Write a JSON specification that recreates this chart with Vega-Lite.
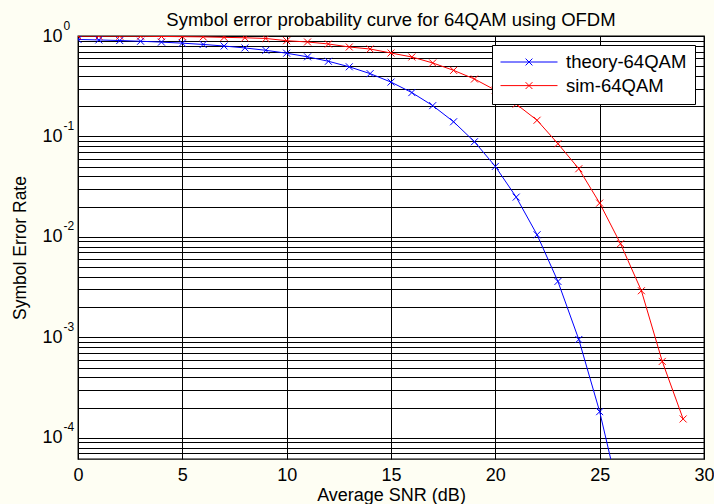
{
  "$schema": "https://vega.github.io/schema/vega-lite/v6.json",
  "width": 626,
  "height": 423,
  "autosize": {"type": "none"},
  "padding": {"left": 78, "top": 36, "right": 10, "bottom": 45},
  "background": "#fefef3",
  "title": {
    "text": "Symbol error probability curve for 64QAM using OFDM",
    "fontSize": 18.5,
    "font": "Liberation Sans",
    "fontWeight": "normal",
    "color": "black",
    "frame": "group",
    "anchor": "middle",
    "baseline": "alphabetic",
    "offset": -15,
    "dy": 10
  },
  "config": {
    "view": {"stroke": "black", "strokeWidth": 1.3, "fill": "white"},
    "font": "Liberation Sans"
  },
  "data": {
    "values": [
      {"snr": 0, "ser": 0.9237, "series": "theory-64QAM"},
      {"snr": 1, "ser": 0.9135, "series": "theory-64QAM"},
      {"snr": 2, "ser": 0.9012, "series": "theory-64QAM"},
      {"snr": 3, "ser": 0.8866, "series": "theory-64QAM"},
      {"snr": 4, "ser": 0.8692, "series": "theory-64QAM"},
      {"snr": 5, "ser": 0.8485, "series": "theory-64QAM"},
      {"snr": 6, "ser": 0.8239, "series": "theory-64QAM"},
      {"snr": 7, "ser": 0.7948, "series": "theory-64QAM"},
      {"snr": 8, "ser": 0.7605, "series": "theory-64QAM"},
      {"snr": 9, "ser": 0.7205, "series": "theory-64QAM"},
      {"snr": 10, "ser": 0.6739, "series": "theory-64QAM"},
      {"snr": 11, "ser": 0.6205, "series": "theory-64QAM"},
      {"snr": 12, "ser": 0.5603, "series": "theory-64QAM"},
      {"snr": 13, "ser": 0.4936, "series": "theory-64QAM"},
      {"snr": 14, "ser": 0.4220, "series": "theory-64QAM"},
      {"snr": 15, "ser": 0.3477, "series": "theory-64QAM"},
      {"snr": 16, "ser": 0.2733, "series": "theory-64QAM"},
      {"snr": 17, "ser": 0.2027, "series": "theory-64QAM"},
      {"snr": 18, "ser": 0.1400, "series": "theory-64QAM"},
      {"snr": 19, "ser": 0.0886, "series": "theory-64QAM"},
      {"snr": 20, "ser": 0.0503, "series": "theory-64QAM"},
      {"snr": 21, "ser": 0.0249, "series": "theory-64QAM"},
      {"snr": 22, "ser": 0.0105, "series": "theory-64QAM"},
      {"snr": 23, "ser": 0.0036, "series": "theory-64QAM"},
      {"snr": 24, "ser": 0.000952, "series": "theory-64QAM"},
      {"snr": 25, "ser": 0.000182, "series": "theory-64QAM"},
      {"snr": 26, "ser": 0.0000235, "series": "theory-64QAM"},
      {"snr": 0, "ser": 0.997, "series": "sim-64QAM"},
      {"snr": 1, "ser": 0.997, "series": "sim-64QAM"},
      {"snr": 2, "ser": 0.997, "series": "sim-64QAM"},
      {"snr": 3, "ser": 0.996, "series": "sim-64QAM"},
      {"snr": 4, "ser": 0.99, "series": "sim-64QAM"},
      {"snr": 5, "ser": 0.985, "series": "sim-64QAM"},
      {"snr": 6, "ser": 0.98, "series": "sim-64QAM"},
      {"snr": 7, "ser": 0.97, "series": "sim-64QAM"},
      {"snr": 8, "ser": 0.96, "series": "sim-64QAM"},
      {"snr": 9, "ser": 0.945, "series": "sim-64QAM"},
      {"snr": 10, "ser": 0.898, "series": "sim-64QAM"},
      {"snr": 11, "ser": 0.872, "series": "sim-64QAM"},
      {"snr": 12, "ser": 0.833, "series": "sim-64QAM"},
      {"snr": 13, "ser": 0.777, "series": "sim-64QAM"},
      {"snr": 14, "ser": 0.742, "series": "sim-64QAM"},
      {"snr": 15, "ser": 0.677, "series": "sim-64QAM"},
      {"snr": 16, "ser": 0.618, "series": "sim-64QAM"},
      {"snr": 17, "ser": 0.539, "series": "sim-64QAM"},
      {"snr": 18, "ser": 0.455, "series": "sim-64QAM"},
      {"snr": 19, "ser": 0.373, "series": "sim-64QAM"},
      {"snr": 20, "ser": 0.289, "series": "sim-64QAM"},
      {"snr": 21, "ser": 0.210, "series": "sim-64QAM"},
      {"snr": 22, "ser": 0.145, "series": "sim-64QAM"},
      {"snr": 23, "ser": 0.0847, "series": "sim-64QAM"},
      {"snr": 24, "ser": 0.0477, "series": "sim-64QAM"},
      {"snr": 25, "ser": 0.0217, "series": "sim-64QAM"},
      {"snr": 26, "ser": 0.00855, "series": "sim-64QAM"},
      {"snr": 27, "ser": 0.00291, "series": "sim-64QAM"},
      {"snr": 28, "ser": 0.000576, "series": "sim-64QAM"},
      {"snr": 29, "ser": 0.000154, "series": "sim-64QAM"}
    ]
  },
  "resolve": {"scale": {"y": "independent"}, "axis": {"y": "independent"}},
  "layer": [
    {
      "mark": {"type": "line", "strokeWidth": 1, "clip": true},
      "encoding": {
        "x": {
          "field": "snr", "type": "quantitative",
          "scale": {"domain": [0, 30], "nice": false, "zero": false},
          "axis": {
            "values": [0, 5, 10, 15, 20, 25, 30],
            "grid": true, "gridColor": "black", "gridOpacity": 1, "gridWidth": 1,
            "labelFontSize": 18, "labelColor": "black", "labelPadding": 7, "labelFlush": false,
            "ticks": false, "tickSize": 0, "domain": false,
            "title": "Average SNR (dB)", "titleFontSize": 18, "titleFontWeight": "normal",
            "titleColor": "black", "titlePadding": 2
          }
        },
        "y": {
          "field": "ser", "type": "quantitative",
          "scale": {"type": "log", "domain": [0.0000615, 1], "nice": false},
          "axis": {
            "orient": "left",
            "values": [0.00007, 0.00008, 0.00009, 0.0001, 0.0002, 0.0003, 0.0004, 0.0005, 0.0006, 0.0007, 0.0008, 0.0009, 0.001, 0.002, 0.003, 0.004, 0.005, 0.006, 0.007, 0.008, 0.009, 0.01, 0.02, 0.03, 0.04, 0.05, 0.06, 0.07, 0.08, 0.09, 0.1, 0.2, 0.3, 0.4, 0.5, 0.6, 0.7, 0.8, 0.9, 1],
            "labelExpr": "abs(log(datum.value)/LN10 - round(log(datum.value)/LN10)) < 0.001 ? '10' : ''",
            "labelOverlap": false,
            "grid": true, "gridColor": "black", "gridOpacity": 1, "gridWidth": 1,
            "labelFontSize": 18, "labelColor": "black", "labelPadding": 16, "labelAlign": "right", "labelBaseline": "middle",
            "ticks": false, "tickSize": 0, "domain": false,
            "title": "Symbol Error Rate", "titleFontSize": 17.5, "titleFontWeight": "normal",
            "titleColor": "black", "titlePadding": 12
          }
        },
        "color": {
          "field": "series", "type": "nominal",
          "scale": {"domain": ["theory-64QAM", "sim-64QAM"], "range": ["#0000ff", "#ff0000"]},
          "legend": {
            "title": null, "orient": "none", "legendX": 414, "legendY": 9, "direction": "vertical",
            "fillColor": "white", "strokeColor": "black", "padding": 8,
            "symbolType": "M-1,0L1,0M-0.12,-0.12L0.12,0.12M-0.12,0.12L0.12,-0.12",
            "symbolSize": 3249, "symbolStrokeWidth": 1, "symbolOpacity": 1,
            "clipHeight": 18,
            "labelFontSize": 18.5, "labelColor": "black", "labelOffset": 8, "rowPadding": 4.6, "labelLimit": 300
          }
        }
      }
    },
    {
      "mark": {"type": "point", "shape": "M-1,-1L1,1M-1,1L1,-1", "filled": false, "size": 49, "strokeWidth": 1, "clip": true, "opacity": 1},
      "encoding": {
        "x": {
          "field": "snr", "type": "quantitative",
          "scale": {"domain": [0, 30], "nice": false, "zero": false},
          "axis": {
            "values": [0, 5, 10, 15, 20, 25, 30],
            "grid": true, "gridColor": "black", "gridOpacity": 1, "gridWidth": 1,
            "labelFontSize": 18, "labelColor": "black", "labelPadding": 7, "labelFlush": false,
            "ticks": false, "tickSize": 0, "domain": false,
            "title": "Average SNR (dB)", "titleFontSize": 18, "titleFontWeight": "normal",
            "titleColor": "black", "titlePadding": 2
          }
        },
        "y": {
          "field": "ser", "type": "quantitative",
          "scale": {"type": "log", "domain": [0.0000615, 1], "nice": false},
          "axis": {
            "orient": "left",
            "values": [0.0001, 0.001, 0.01, 0.1, 1],
            "labelExpr": "'' + round(log(datum.value)/LN10)",
            "labelOverlap": false,
            "grid": false,
            "labelFontSize": 12, "labelColor": "black", "labelPadding": 15, "labelAlign": "left", "labelBaseline": "middle", "labelOffset": -11,
            "ticks": false, "tickSize": 0, "domain": false,
            "title": null
          }
        },
        "color": {
          "field": "series", "type": "nominal",
          "scale": {"domain": ["theory-64QAM", "sim-64QAM"], "range": ["#0000ff", "#ff0000"]},
          "legend": null
        }
      }
    }
  ]
}
